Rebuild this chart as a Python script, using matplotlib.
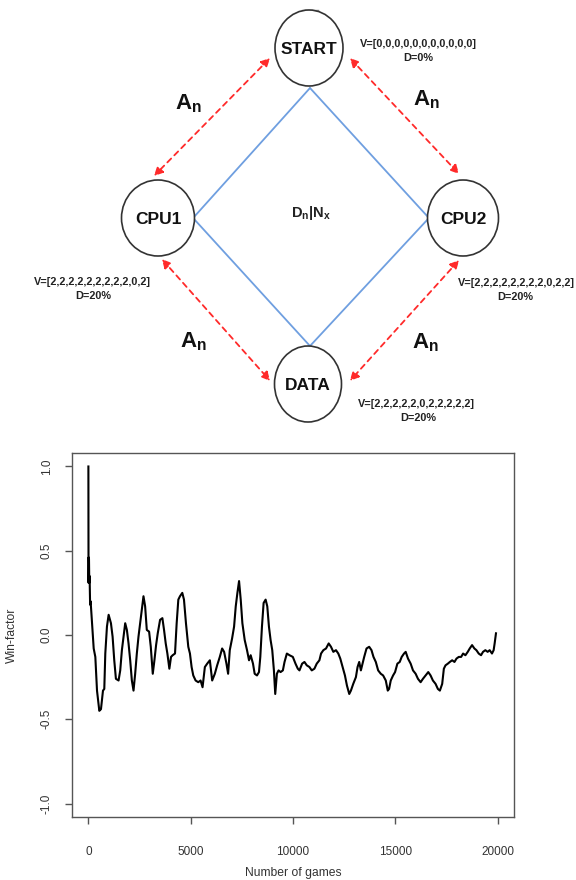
import matplotlib
matplotlib.use("Agg")
import matplotlib.pyplot as plt
from matplotlib.patches import Ellipse, FancyArrowPatch

plt.rcParams['font.family'] = ['Liberation Sans', 'DejaVu Sans']
plt.rcParams['mathtext.fontset'] = 'custom'
plt.rcParams['mathtext.rm'] = 'Liberation Sans'
plt.rcParams['mathtext.bf'] = 'Liberation Sans:bold'
plt.rcParams['mathtext.it'] = 'Liberation Sans:italic'

# ---------------- data ----------------
node_names = ["START", "CPU1", "CPU2", "DATA"]
node_vectors = ["V=[0,0,0,0,0,0,0,0,0,0,0]", "V=[2,2,2,2,2,2,2,2,2,0,2]",
                "V=[2,2,2,2,2,2,2,2,0,2,2]", "V=[2,2,2,2,2,0,2,2,2,2,2]"]
node_d = ["D=0%", "D=20%", "D=20%", "D=20%"]
edge_label = r"$\mathbf{A_n}$"
center_label = r"$\mathbf{D_n|N_x}$"

games = [1, 8, 15, 30, 45, 60, 85, 110, 178, 260, 340, 422, 535, 616, 714, 778, 827, 908, 990,
         1103, 1184, 1265, 1346, 1476, 1557, 1638, 1719, 1800, 1882, 1963, 2044, 2125, 2206,
         2287, 2368, 2449, 2530, 2612, 2693, 2774, 2855, 2968, 3050, 3147, 3228, 3309, 3390,
         3504, 3617, 3698, 3780, 3861, 3958, 4039, 4120, 4234, 4315, 4396, 4477, 4590, 4672,
         4769, 4883, 4964, 5045, 5126, 5240, 5369, 5483, 5580, 5693, 5807, 5937, 6050, 6180,
         6294, 6423, 6537, 6634, 6748, 6829, 6910, 7024, 7121, 7202, 7283, 7364, 7445, 7526,
         7640, 7753, 7851, 7932, 8045, 8127, 8240, 8337, 8402, 8483, 8564, 8662, 8743, 8824,
         8905, 8986, 9067, 9132, 9213, 9294, 9392, 9505, 9586, 9700, 9830, 9992, 10122, 10235,
         10316, 10446, 10560, 10673, 10803, 10916, 11046, 11160, 11290, 11371, 11484, 11614,
         11744, 11857, 11971, 12100, 12214, 12311, 12425, 12538, 12636, 12749, 12830, 12944,
         13074, 13155, 13236, 13317, 13398, 13479, 13593, 13723, 13836, 13933, 14047, 14161,
         14290, 14404, 14534, 14631, 14696, 14777, 14891, 14988, 15101, 15215, 15312, 15426,
         15507, 15620, 15750, 15864, 15993, 16107, 16237, 16350, 16480, 16610, 16723, 16837,
         16967, 17080, 17178, 17291, 17372, 17453, 17567, 17664, 17778, 17891, 17989, 18102,
         18216, 18313, 18426, 18540, 18637, 18751, 18864, 18962, 19075, 19189, 19286, 19400,
         19513, 19611, 19724, 19805, 19854, 19919]
win_factor = [1.00, 0.31, 0.46, 0.45, 0.31, 0.35, 0.18, 0.20, 0.07, -0.08, -0.13, -0.33, -0.45,
              -0.44, -0.33, -0.32, -0.11, 0.05, 0.12, 0.07, -0.01, -0.15, -0.26, -0.27, -0.21,
              -0.09, -0.01, 0.07, 0.03, -0.05, -0.15, -0.27, -0.33, -0.23, -0.11, -0.01, 0.07,
              0.15, 0.23, 0.17, 0.03, 0.02, -0.07, -0.23, -0.15, -0.06, 0.01, 0.09, 0.10, 0.03,
              -0.05, -0.11, -0.20, -0.13, -0.12, -0.11, 0.07, 0.21, 0.23, 0.25, 0.21, 0.07, -0.07,
              -0.11, -0.19, -0.24, -0.27, -0.28, -0.27, -0.31, -0.19, -0.17, -0.15, -0.27, -0.23,
              -0.18, -0.13, -0.08, -0.10, -0.17, -0.23, -0.09, -0.02, 0.05, 0.17, 0.25, 0.32,
              0.21, 0.07, -0.03, -0.09, -0.15, -0.12, -0.17, -0.23, -0.24, -0.22, -0.13, 0.05,
              0.19, 0.21, 0.17, 0.05, -0.03, -0.09, -0.21, -0.35, -0.23, -0.21, -0.22, -0.21,
              -0.16, -0.11, -0.12, -0.13, -0.17, -0.20, -0.21, -0.17, -0.16, -0.18, -0.19, -0.21,
              -0.20, -0.17, -0.15, -0.11, -0.09, -0.08, -0.05, -0.07, -0.10, -0.09, -0.11, -0.14,
              -0.19, -0.24, -0.30, -0.35, -0.33, -0.29, -0.25, -0.19, -0.16, -0.21, -0.17, -0.13,
              -0.08, -0.07, -0.09, -0.13, -0.16, -0.21, -0.23, -0.24, -0.27, -0.33, -0.32, -0.27,
              -0.24, -0.22, -0.17, -0.16, -0.13, -0.11, -0.10, -0.14, -0.17, -0.21, -0.23, -0.26,
              -0.28, -0.26, -0.24, -0.22, -0.24, -0.27, -0.29, -0.32, -0.33, -0.29, -0.20, -0.18,
              -0.17, -0.16, -0.15, -0.16, -0.14, -0.13, -0.13, -0.11, -0.12, -0.10, -0.08, -0.06,
              -0.08, -0.09, -0.11, -0.12, -0.10, -0.09, -0.10, -0.09, -0.11, -0.09, -0.05, 0.01]
x_ticks = [0, 5000, 10000, 15000, 20000]
y_ticks = [-1.0, -0.5, 0.0, 0.5, 1.0]
x_label = "Number of games"
y_label = "Win-factor"

# ---------------- figure ----------------
W, H = 576, 880
fig = plt.figure(figsize=(W / 100, H / 100), dpi=100)

# ---- top diagram (pixel coordinates) ----
dax = fig.add_axes([0, 1 - 440 / H, 1, 440 / H])
dax.set_xlim(0, W)
dax.set_ylim(440, 0)
dax.axis('off')

centers = [(309, 48), (158, 218), (463, 218), (308, 384)]
sizes = [(68, 76), (73, 76), (71, 76), (67, 76)]
blue = '#6f9fe0'
# blue diamond
for (x0, y0), (x1, y1) in [((310, 88), (194, 217)), ((310, 88), (428, 217)),
                           ((310, 346), (194, 219)), ((310, 346), (428, 219))]:
    dax.plot([x0, x1], [y0, y1], color=blue, lw=1.3, solid_capstyle='round')

for (cx, cy), (w, h), name in zip(centers, sizes, node_names):
    dax.add_patch(Ellipse((cx, cy), w, h, facecolor='white', edgecolor='#333333', lw=1.2, zorder=3))
    dax.text(cx, cy + 1, name, ha='center', va='center', fontsize=12.5, fontweight='bold',
             color='#111111', zorder=4)
dax.plot([303, 317], [11, 11], color='#999999', lw=2.5, zorder=2)

# red dashed double arrows
red = '#ff2a2a'
for p0, p1 in [((272, 56), (152, 178)), ((348, 56), (461, 176)),
               ((160, 257), (272, 383)), ((461, 258), (348, 383))]:
    arr = FancyArrowPatch(p0, p1, arrowstyle='<|-|>', mutation_scale=13, color=red,
                          lw=1.3, linestyle=(0, (3, 2.5)), zorder=2)
    dax.add_patch(arr)

for (x, y) in [(188, 104), (426, 100), (193, 342), (425, 343)]:
    dax.text(x, y, edge_label, ha='center', va='center', fontsize=16, color='#111111')

dax.text(311, 213, center_label, ha='center', va='center', fontsize=10.5, color='#222222')

vpos = [(418, 44), (92, 282), (516, 283), (416, 404)]
dpos = [(418, 58), (93, 296), (515, 297), (418, 418)]
for (vx, vy), (ddx, ddy), vt, dt in zip(vpos, dpos, node_vectors, node_d):
    dax.text(vx, vy, vt, ha='center', va='center', fontsize=7.8, fontweight='bold', color='#222222')
    dax.text(ddx, ddy, dt, ha='center', va='center', fontsize=7.8, fontweight='bold', color='#222222')

# ---- bottom line chart ----
ax = fig.add_axes([72 / W, 1 - 817 / H, (514 - 72) / W, (817 - 453) / H])
ax.plot(games, win_factor, color='black', lw=1.5)
ax.set_xlim(-800, 20800)
ax.set_ylim(-1.08, 1.08)
ax.set_xticks(x_ticks)
ax.set_xticklabels([str(t) for t in x_ticks])
ax.set_yticks(y_ticks)
ax.set_yticklabels([f"{t:.1f}" for t in y_ticks], rotation=90, va='center')
for s in ax.spines.values():
    s.set_color('#555555')
    s.set_linewidth(1.0)
ax.tick_params(axis='both', direction='out', length=5, width=1.0, color='#555555',
               labelsize=8.5, labelcolor='#333333')
ax.tick_params(axis='x', pad=16)
ax.tick_params(axis='y', pad=9)
ax.set_xlabel(x_label, fontsize=8.7, color='#333333', labelpad=6)
ax.set_ylabel(y_label, fontsize=8.7, color='#333333', labelpad=16)

fig.savefig('out.png', dpi=100)
